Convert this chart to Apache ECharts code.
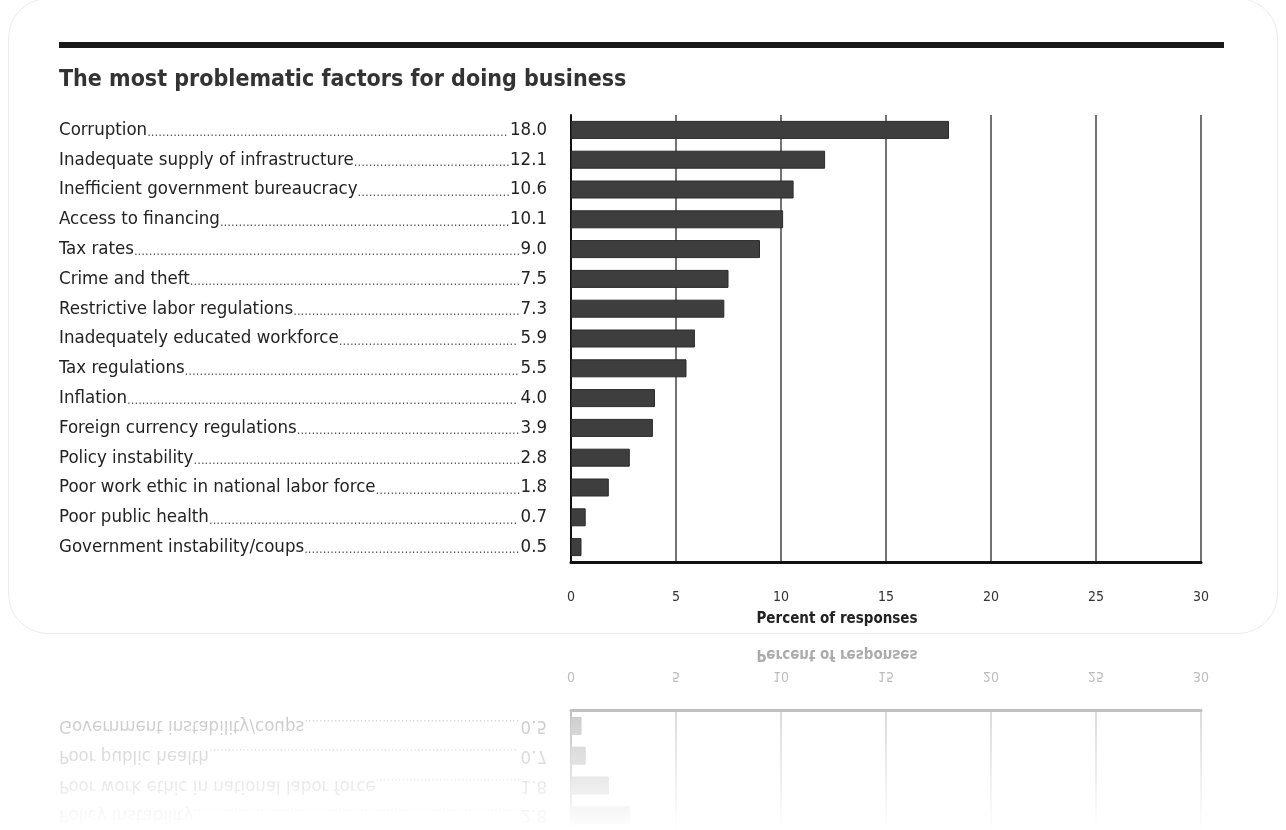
<!DOCTYPE html>
<html>
<head>
<meta charset="utf-8">
<script src="https://cdn.jsdelivr.net/npm/echarts@6/dist/echarts.min.js"></script>
<style>
  html, body { margin: 0; padding: 0; background: #fff; }
  #page { position: relative; width: 1286px; height: 830px; overflow: hidden; }
  #card { position: absolute; left: 8px; top: -2px; width: 1270px; height: 636px;
          border: 1px solid #ececec; border-radius: 40px; box-sizing: border-box; }
  #main { position: absolute; left: 0; top: 0; width: 1286px; height: 830px; }
  #mirrorWrap { position: absolute; left: 0; top: 637px; width: 1286px; height: 193px; overflow: hidden;
          -webkit-mask-image: linear-gradient(to bottom, rgba(0,0,0,0.42), rgba(0,0,0,0));
          mask-image: linear-gradient(to bottom, rgba(0,0,0,0.42), rgba(0,0,0,0)); }
  #mirror { position: absolute; left: 0; top: -194px; width: 1286px; height: 830px; transform: scaleY(-1); }
</style>
</head>
<body>
<div id="page">
  <div id="card"></div>
  <div id="main"></div>
  <div id="mirrorWrap"><div id="mirror"></div></div>
</div>
<script>
// chart data
var categories = [
  'Corruption',
  'Inadequate supply of infrastructure',
  'Inefficient government bureaucracy',
  'Access to financing',
  'Tax rates',
  'Crime and theft',
  'Restrictive labor regulations',
  'Inadequately educated workforce',
  'Tax regulations',
  'Inflation',
  'Foreign currency regulations',
  'Policy instability',
  'Poor work ethic in national labor force',
  'Poor public health',
  'Government instability/coups'
];
var values = [18.0, 12.1, 10.6, 10.1, 9.0, 7.5, 7.3, 5.9, 5.5, 4.0, 3.9, 2.8, 1.8, 0.7, 0.5];
var xMin = 0, xMax = 30, xStep = 5;

var FONT = "'Liberation Sans Narrow', 'DejaVu Sans Condensed', 'Arial Narrow', sans-serif";
var LABEL_SIZE = 18.5;
var DOT_SIZE = 13;

// measure text so the dotted leaders reach the value
var cv = document.createElement('canvas').getContext('2d');
function textW(str, size, weight) {
    cv.font = (weight || 'normal') + ' ' + size + 'px ' + FONT;
    return cv.measureText(str).width;
}
var LEADER_WIDTH = 488;   // from label start to right edge of value
function leader(i) {
    var nameW = textW(categories[i], LABEL_SIZE);
    var valW = textW(values[i].toFixed(1), LABEL_SIZE);
    var dotW = textW('.', DOT_SIZE);
    var n = Math.floor((LEADER_WIDTH - nameW - valW) / dotW);
    return new Array(Math.max(n, 0) + 1).join('.');
}

function buildOption() {
    return {
        animation: false,
        title: {
            text: 'The most problematic factors for doing business',
            left: 54,
            top: 64,
            textStyle: { fontFamily: FONT, fontSize: 23, fontWeight: 'bold', color: '#333' }
        },
        graphic: [
            { type: 'rect', shape: { x: 59, y: 42, width: 1165, height: 6 }, style: { fill: '#1a1a1a' } },
            { type: 'text', style: { x: 837, y: 619, text: 'Percent of responses', fill: '#222',
                font: 'bold 15px ' + FONT, textAlign: 'center', textVerticalAlign: 'middle' } }
        ],
        grid: { left: 571, top: 115, width: 630, height: 447 },
        xAxis: {
            type: 'value',
            min: xMin, max: xMax, interval: xStep,
            axisLine: { show: true, onZero: false, lineStyle: { color: '#111', width: 3 } },
            axisTick: { show: false },
            axisLabel: { margin: 28, fontFamily: FONT, fontSize: 14, color: '#333' },
            splitLine: { show: true, lineStyle: { color: '#444', width: 1.5 } }
        },
        yAxis: [
            {
                type: 'category',
                data: categories,
                inverse: true,
                axisLine: { show: true, lineStyle: { color: '#111', width: 2 } },
                axisTick: { show: false },
                axisLabel: {
                    align: 'left',
                    margin: 512,
                    formatter: function (v, i) { return '{n|' + v + '}{d|' + leader(i) + '}'; },
                    rich: {
                        n: { fontFamily: FONT, fontSize: LABEL_SIZE, color: '#222' },
                        d: { fontFamily: FONT, fontSize: DOT_SIZE, color: '#555', verticalAlign: 'bottom' }
                    }
                }
            },
            {
                type: 'category',
                data: categories,
                inverse: true,
                position: 'left',
                axisLine: { show: false },
                axisTick: { show: false },
                axisLabel: {
                    align: 'right',
                    margin: 24,
                    fontFamily: FONT, fontSize: LABEL_SIZE, color: '#222',
                    formatter: function (v, i) { return values[i].toFixed(1); }
                }
            }
        ],
        series: [{
            type: 'bar',
            data: values,
            barWidth: 18,
            itemStyle: { color: '#3e3e3e', borderColor: '#2a2a2a', borderWidth: 1 }
        }]
    };
}

var chart = echarts.init(document.getElementById('main'));
chart.setOption(buildOption());
var mirror = echarts.init(document.getElementById('mirror'));
mirror.setOption(buildOption());
</script>
</body>
</html>
